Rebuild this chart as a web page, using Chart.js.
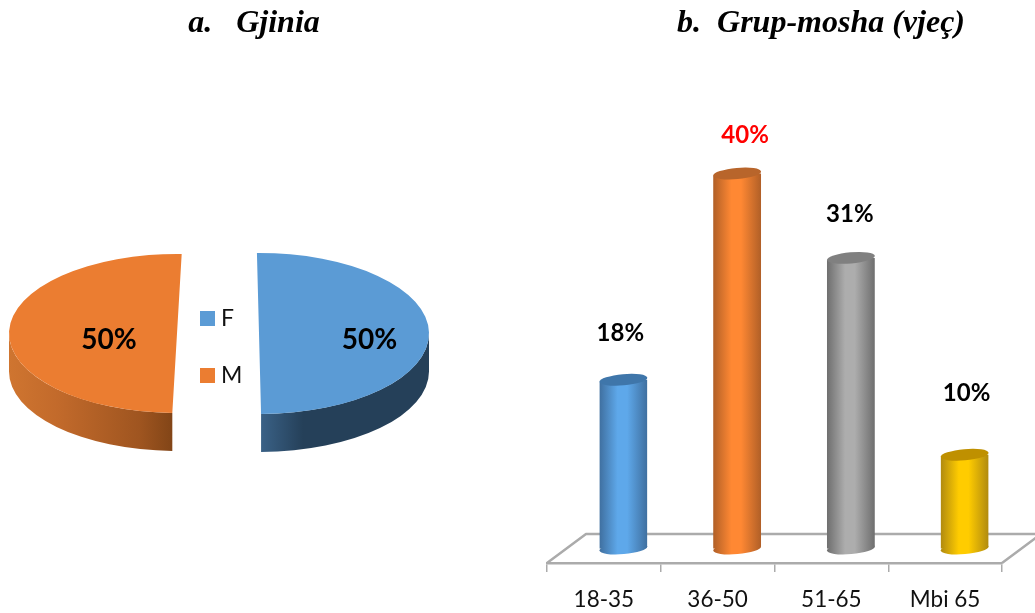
<!DOCTYPE html>
<html><head><meta charset="utf-8">
<script src="https://cdn.jsdelivr.net/npm/chart.js@4"></script>
<style>
html,body{margin:0;padding:0;background:#fff;overflow:hidden}
#stage{position:relative;width:1035px;height:613px;overflow:hidden}
canvas{position:absolute;top:0}
</style></head><body>
<div id="stage">
<canvas id="pie" width="508" height="613" style="left:0;width:508px;height:613px"></canvas>
<canvas id="bar" width="602" height="613" style="left:520px;width:602px;height:613px"></canvas>
</div>
<script>
const genderLabels = ['F', 'M'];
const genderValues = [50, 50];
const genderColors = ['#5B9BD5', '#EB7D31'];
const ageLabels = ['18-35', '36-50', '51-65', 'Mbi 65'];
const ageValues = [18, 40, 31, 10];
const ageEdge = ['#3F6F9F', '#B05F27', '#6E6E6E', '#B08A10'];
const ageMid = ['#5EA8EA', '#FF8833', '#ADADAD', '#FFCC00'];
const ageCap = ['#3F76AA', '#B8652B', '#808080', '#BF9000'];
const ageLabelColors = ['#000000', '#FF0000', '#000000', '#000000'];

const FONT = 'Lato';
const TITLE_FONT = {family: 'Liberation Serif', size: 32, weight: 'bold', style: 'italic'};
const TITLE_PAD = {top: 5, bottom: 50.85};
function centreTitle(chart) {
  chart.titleBlock.left = 0;
  chart.titleBlock.right = chart.width;
}

/* ---------- pie ---------- */
const SQUASH = 0.4735, WALL = 38;
const sliceShift = [41.75, -40.25];
const sliceTilt = [-0.7, 1.6], sliceRadius = [170, 168], labelReach = [0.65, 0.405];
const WALL_STOPS = [
  [[0, '#3A6186'], [0.25, '#254059'], [1, '#254059']],
  [[0, '#CF7530'], [0.3, '#C26A2B'], [0.8, '#9F5520'], [1, '#824517']]
];
const piePlugin = {
  id: 'pie3d',
  afterDatasetsUpdate(chart) {
    chart.getDatasetMeta(0).data.forEach((a, i) => {
      const d = sliceTilt[i] * Math.PI / 180;
      a.startAngle += d; a.endAngle += d; a.outerRadius = sliceRadius[i];
      a.x += sliceShift[i];
    });
  },
  afterLayout(chart) {
    const l = chart.legend;
    l.left = 171.5; l.right = 280; l.top = 273; l.bottom = 600;
    centreTitle(chart);
  },
  beforeDatasetsDraw(chart) {
    const ctx = chart.ctx, area = chart.chartArea;
    const cy = (area.top + area.bottom) / 2;
    chart.getDatasetMeta(0).data.forEach((a, i) => {
      const cx = a.x;
      const r = a.outerRadius, ry = r * SQUASH;
      const s = Math.max(a.startAngle, 0), e = Math.min(a.endAngle, Math.PI);
      const x0 = Math.min(cx + r * Math.cos(s), cx + r * Math.cos(e));
      const x1 = Math.max(cx + r * Math.cos(s), cx + r * Math.cos(e));
      const g = ctx.createLinearGradient(x0, 0, x1, 0);
      WALL_STOPS[i].forEach(st => g.addColorStop(st[0], st[1]));
      ctx.save();
      ctx.fillStyle = g;
      ctx.beginPath();
      ctx.ellipse(cx, cy, r, ry, 0, s, e);
      ctx.ellipse(cx, cy + WALL, r, ry, 0, e, s, true);
      ctx.closePath();
      ctx.fill();
      ctx.restore();
    });
    ctx.save();
    ctx.translate(0, cy); ctx.scale(1, SQUASH); ctx.translate(0, -cy);
  },
  afterDatasetsDraw(chart) {
    const ctx = chart.ctx, area = chart.chartArea;
    ctx.restore();
    const cy = (area.top + area.bottom) / 2;
    ctx.save();
    ctx.font = 'bold 28px ' + FONT;
    ctx.fillStyle = '#000';
    ctx.textAlign = 'center'; ctx.textBaseline = 'middle';
    chart.getDatasetMeta(0).data.forEach((a, i) => {
      const mid = (a.startAngle + a.endAngle) / 2;
      const reach = labelReach[i] * a.outerRadius;
      ctx.fillText(genderValues[i] + '%', a.x + Math.cos(mid) * reach, cy + 6.5);
    });
    ctx.restore();
  }
};
new Chart(document.getElementById('pie'), {
  type: 'pie',
  data: {labels: genderLabels, datasets: [{data: genderValues, backgroundColor: genderColors,
    borderWidth: 0, radius: 170, clip: false}]},
  options: {
    responsive: false, animation: false, devicePixelRatio: 1,
    layout: {padding: {left: 0, top: 0, right: 73.5, bottom: 40.25}},
    plugins: {
      tooltip: {enabled: false},
      title: {display: true, text: 'a.   Gjinia', color: '#000', font: TITLE_FONT, padding: TITLE_PAD},
      legend: {position: 'chartArea', align: 'start',
        labels: {usePointStyle: true, pointStyle: 'rect', boxWidth: 4, boxHeight: 15,
          padding: 34, color: '#111', font: {family: FONT, size: 23}}}
    }
  },
  plugins: [piePlugin]
});

/* ---------- cylinders ---------- */
const FLOOR_DX = 39, FLOOR_DY = -29, CAP_RY = 5.6, CAP_TILT = -5 * Math.PI / 180, TILT_DY = 2;
const labelShift = [-3, 8, -1, 2], labelLift = [46, 38, 44, 61];
const AXIS_GREY = '#ABABAB';
const BAR_PCT = 0.422;
function barGradient(chart, i) {
  const sc = chart.scales.x;
  if (!sc) return ageMid[i];
  const w = sc.width / ageLabels.length * BAR_PCT;
  const cx = sc.getPixelForValue(i);
  if (!isFinite(cx) || !isFinite(w)) return ageMid[i];
  const g = chart.ctx.createLinearGradient(cx - w / 2, 0, cx + w / 2, 0);
  g.addColorStop(0, ageEdge[i]);
  g.addColorStop(0.38, ageMid[i]);
  g.addColorStop(0.58, ageMid[i]);
  g.addColorStop(1, ageEdge[i]);
  return g;
}
const cylPlugin = {
  id: 'cyl3d',
  afterLayout: centreTitle,
  beforeDatasetsDraw(chart) {
    const ctx = chart.ctx, a = chart.chartArea;
    ctx.save();
    ctx.strokeStyle = AXIS_GREY; ctx.lineWidth = 2.5; ctx.lineJoin = 'round';
    ctx.beginPath();
    ctx.moveTo(a.left, a.bottom);
    ctx.lineTo(a.left + FLOOR_DX, a.bottom + FLOOR_DY);
    ctx.lineTo(a.right + FLOOR_DX, a.bottom + FLOOR_DY);
    ctx.lineTo(a.right, a.bottom);
    ctx.stroke();
    ctx.restore();
    ctx.save();
    ctx.translate(FLOOR_DX / 2, FLOOR_DY / 2);
    const bars = chart.getDatasetMeta(0).data;
    bars.forEach((b, i) => {
      ctx.fillStyle = barGradient(chart, i);
      ctx.beginPath();
      ctx.ellipse(b.x, b.base, b.width / 2, CAP_RY, CAP_TILT, 0, Math.PI * 2);
      ctx.fill();
    });
    ctx.save();
    ctx.beginPath();
    bars.forEach(b => {
      const l = b.x - b.width / 2, r = b.x + b.width / 2;
      ctx.moveTo(l, b.y + TILT_DY); ctx.lineTo(r, b.y - TILT_DY);
      ctx.lineTo(r, b.base - TILT_DY); ctx.lineTo(l, b.base + TILT_DY);
      ctx.closePath();
    });
    ctx.clip();
  },
  afterDatasetsDraw(chart) {
    const ctx = chart.ctx;
    ctx.restore();
    const bars = chart.getDatasetMeta(0).data;
    bars.forEach((b, i) => {
      ctx.fillStyle = ageCap[i];
      ctx.beginPath();
      ctx.ellipse(b.x, b.y, b.width / 2, CAP_RY, CAP_TILT, 0, Math.PI * 2);
      ctx.fill();
    });
    ctx.font = 'bold 24px ' + FONT;
    ctx.textAlign = 'center'; ctx.textBaseline = 'middle';
    bars.forEach((b, i) => {
      ctx.fillStyle = ageLabelColors[i];
      ctx.fillText(ageValues[i] + '%', b.x + labelShift[i], b.y - labelLift[i]);
    });
    ctx.restore();
  }
};
new Chart(document.getElementById('bar'), {
  type: 'bar',
  data: {labels: ageLabels, datasets: [{data: ageValues,
    backgroundColor: c => barGradient(c.chart, c.dataIndex),
    borderWidth: 0, barPercentage: BAR_PCT, categoryPercentage: 1, clip: false}]},
  options: {
    responsive: false, animation: false, devicePixelRatio: 1,
    layout: {padding: {left: 27, top: 0, right: 120, bottom: 0}},
    plugins: {
      tooltip: {enabled: false},
      legend: {display: false},
      title: {display: true, text: 'b.  Grup-mosha (vjeç)', color: '#000', font: TITLE_FONT, padding: TITLE_PAD}
    },
    scales: {
      x: {
        afterFit: s => { s.height = 50; },
        grid: {drawOnChartArea: false, drawTicks: true, tickLength: 9, color: AXIS_GREY, lineWidth: 1.5},
        border: {color: AXIS_GREY, width: 2.5},
        ticks: {color: '#111', padding: 14, maxRotation: 0, autoSkip: false, font: {family: FONT, size: 22.5}}
      },
      y: {display: false, min: 0, max: 50}
    }
  },
  plugins: [cylPlugin]
});
</script>
</body></html>
